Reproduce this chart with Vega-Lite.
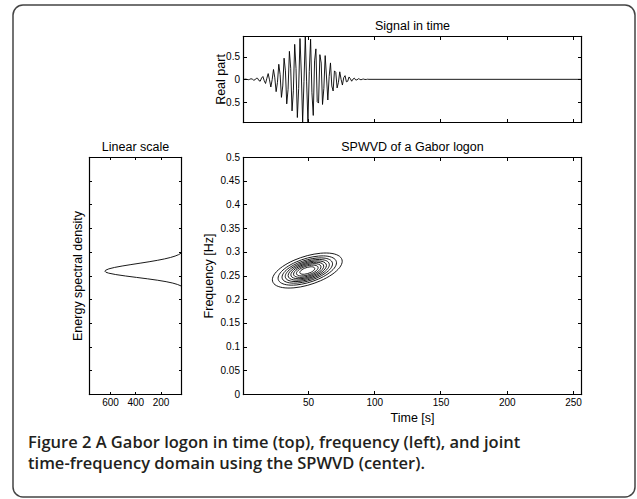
{
"$schema":"https://vega.github.io/schema/vega-lite/v6.json",
"width":622,"height":492,
"autosize":{"type":"none"},
"padding":{"left":13,"top":5,"right":2,"bottom":2},
"background":"white",
"config":{
 "view":{"stroke":"#444444","strokeWidth":1.5,"cornerRadius":10},
 "axis":{"grid":false,"domainColor":"#000","domainWidth":1.2,"domainCap":"square","tickColor":"#000","tickWidth":1,"tickSize":-3.5,"labelColor":"#000","titleColor":"#000","labelFont":"Liberation Sans","titleFont":"Liberation Sans","labelFontSize":10,"titleFontSize":12.5,"titleFontWeight":"normal","labelPadding":7,"labelFlush":false,"labelOverlap":false}
},
"title":{"text":["Figure 2 A Gabor logon in time (top), frequency (left), and joint","time-frequency domain using the SPWVD (center)."],"orient":"bottom","anchor":"start","frame":"group","offset":-62,"dx":15,"font":"Open Sans","fontSize":16.5,"fontWeight":600,"color":"#231f20","lineHeight":21,"baseline":"top"},
"datasets":{
"signal":[{"t":1,"v":-0.003},{"t":2,"v":0.002},{"t":3,"v":0.005},{"t":4,"v":-0.001},{"t":5,"v":-0.008},{"t":6,"v":-0.001},{"t":7,"v":0.013},{"t":8,"v":0.005},{"t":9,"v":-0.017},{"t":10,"v":-0.012},{"t":11,"v":0.023},{"t":12,"v":0.023},{"t":13,"v":-0.027},{"t":14,"v":-0.04},{"t":15,"v":0.029},{"t":16,"v":0.062},{"t":17,"v":-0.028},{"t":18,"v":-0.091},{"t":19,"v":0.023},{"t":20,"v":0.126},{"t":21,"v":-0.011},{"t":22,"v":-0.168},{"t":23,"v":-0.008},{"t":24,"v":0.216},{"t":25,"v":0.033},{"t":26,"v":-0.27},{"t":27,"v":-0.066},{"t":28,"v":0.33},{"t":29,"v":0.104},{"t":30,"v":-0.395},{"t":31,"v":-0.145},{"t":32,"v":0.464},{"t":33,"v":0.185},{"t":34,"v":-0.538},{"t":35,"v":-0.219},{"t":36,"v":0.614},{"t":37,"v":0.243},{"t":38,"v":-0.692},{"t":39,"v":-0.251},{"t":40,"v":0.767},{"t":41,"v":0.238},{"t":42,"v":-0.837},{"t":43,"v":-0.201},{"t":44,"v":0.895},{"t":45,"v":0.139},{"t":46,"v":-0.935},{"t":47,"v":-0.051},{"t":48,"v":0.95},{"t":49,"v":-0.056},{"t":50,"v":-0.933},{"t":51,"v":0.175},{"t":52,"v":0.881},{"t":53,"v":-0.295},{"t":54,"v":-0.791},{"t":55,"v":0.404},{"t":56,"v":0.668},{"t":57,"v":-0.49},{"t":58,"v":-0.52},{"t":59,"v":0.541},{"t":60,"v":0.357},{"t":61,"v":-0.551},{"t":62,"v":-0.196},{"t":63,"v":0.52},{"t":64,"v":0.051},{"t":65,"v":-0.453},{"t":66,"v":0.066},{"t":67,"v":0.36},{"t":68,"v":-0.145},{"t":69,"v":-0.255},{"t":70,"v":0.185},{"t":71,"v":0.153},{"t":72,"v":-0.188},{"t":73,"v":-0.066},{"t":74,"v":0.165},{"t":75,"v":0.002},{"t":76,"v":-0.125},{"t":77,"v":0.037},{"t":78,"v":0.081},{"t":79,"v":-0.054},{"t":80,"v":-0.042},{"t":81,"v":0.052},{"t":82,"v":0.012},{"t":83,"v":-0.041},{"t":84,"v":0.006},{"t":85,"v":0.026},{"t":86,"v":-0.013},{"t":87,"v":-0.013},{"t":88,"v":0.014},{"t":89,"v":0.003},{"t":90,"v":-0.01},{"t":91,"v":0.002},{"t":92,"v":0.006},{"t":93,"v":-0.003},{"t":94,"v":-0.002},{"t":95,"v":0.003},{"t":96,"v":0},{"t":256,"v":0}],
"esd":[{"f":0.228,"e":38},{"f":0.231,"e":64.8},{"f":0.234,"e":103.1},{"f":0.237,"e":155.6},{"f":0.24,"e":222.9},{"f":0.243,"e":302.9},{"f":0.246,"e":390.6},{"f":0.249,"e":477.8},{"f":0.252,"e":554.6},{"f":0.255,"e":610.8},{"f":0.257,"e":632.6},{"f":0.259,"e":640},{"f":0.261,"e":635},{"f":0.264,"e":609.1},{"f":0.267,"e":564},{"f":0.27,"e":503.9},{"f":0.273,"e":434.6},{"f":0.276,"e":361.6},{"f":0.279,"e":290.4},{"f":0.282,"e":225.1},{"f":0.285,"e":168.4},{"f":0.288,"e":121.5},{"f":0.291,"e":84.7},{"f":0.294,"e":56.9},{"f":0.297,"e":38}],
"contour":[
{"level":1,"j":0,"t":75.85,"f":0.28},{"level":1,"j":1,"t":73.84,"f":0.2905},{"level":1,"j":2,"t":68.13,"f":0.2965},{"level":1,"j":3,"t":59.58,"f":0.297},{"level":1,"j":4,"t":49.5,"f":0.2919},{"level":1,"j":5,"t":39.42,"f":0.2821},{"level":1,"j":6,"t":30.87,"f":0.2689},{"level":1,"j":7,"t":25.16,"f":0.2545},{"level":1,"j":8,"t":23.15,"f":0.241},{"level":1,"j":9,"t":25.16,"f":0.2305},{"level":1,"j":10,"t":30.87,"f":0.2245},{"level":1,"j":11,"t":39.42,"f":0.224},{"level":1,"j":12,"t":49.5,"f":0.2291},{"level":1,"j":13,"t":59.58,"f":0.239},{"level":1,"j":14,"t":68.13,"f":0.2521},{"level":1,"j":15,"t":73.84,"f":0.2665},
{"level":2,"j":0,"t":71.53,"f":0.2768},{"level":2,"j":1,"t":69.85,"f":0.2856},{"level":2,"j":2,"t":65.07,"f":0.2906},{"level":2,"j":3,"t":57.93,"f":0.291},{"level":2,"j":4,"t":49.5,"f":0.2868},{"level":2,"j":5,"t":41.07,"f":0.2785},{"level":2,"j":6,"t":33.93,"f":0.2675},{"level":2,"j":7,"t":29.15,"f":0.2555},{"level":2,"j":8,"t":27.47,"f":0.2442},{"level":2,"j":9,"t":29.15,"f":0.2354},{"level":2,"j":10,"t":33.93,"f":0.2304},{"level":2,"j":11,"t":41.07,"f":0.23},{"level":2,"j":12,"t":49.5,"f":0.2343},{"level":2,"j":13,"t":57.93,"f":0.2425},{"level":2,"j":14,"t":65.07,"f":0.2535},{"level":2,"j":15,"t":69.85,"f":0.2655},
{"level":3,"j":0,"t":68.55,"f":0.2746},{"level":3,"j":1,"t":67.1,"f":0.2822},{"level":3,"j":2,"t":62.97,"f":0.2865},{"level":3,"j":3,"t":56.79,"f":0.2869},{"level":3,"j":4,"t":49.5,"f":0.2832},{"level":3,"j":5,"t":42.21,"f":0.2761},{"level":3,"j":6,"t":36.03,"f":0.2666},{"level":3,"j":7,"t":31.9,"f":0.2562},{"level":3,"j":8,"t":30.45,"f":0.2464},{"level":3,"j":9,"t":31.9,"f":0.2388},{"level":3,"j":10,"t":36.03,"f":0.2345},{"level":3,"j":11,"t":42.21,"f":0.2341},{"level":3,"j":12,"t":49.5,"f":0.2378},{"level":3,"j":13,"t":56.79,"f":0.2449},{"level":3,"j":14,"t":62.97,"f":0.2544},{"level":3,"j":15,"t":67.1,"f":0.2648},
{"level":4,"j":0,"t":66.13,"f":0.2728},{"level":4,"j":1,"t":64.86,"f":0.2795},{"level":4,"j":2,"t":61.26,"f":0.2832},{"level":4,"j":3,"t":55.86,"f":0.2835},{"level":4,"j":4,"t":49.5,"f":0.2803},{"level":4,"j":5,"t":43.14,"f":0.2741},{"level":4,"j":6,"t":37.74,"f":0.2658},{"level":4,"j":7,"t":34.14,"f":0.2567},{"level":4,"j":8,"t":32.87,"f":0.2482},{"level":4,"j":9,"t":34.14,"f":0.2415},{"level":4,"j":10,"t":37.74,"f":0.2378},{"level":4,"j":11,"t":43.14,"f":0.2375},{"level":4,"j":12,"t":49.5,"f":0.2407},{"level":4,"j":13,"t":55.86,"f":0.2469},{"level":4,"j":14,"t":61.26,"f":0.2552},{"level":4,"j":15,"t":64.86,"f":0.2643},
{"level":5,"j":0,"t":63.97,"f":0.2712},{"level":5,"j":1,"t":62.86,"f":0.277},{"level":5,"j":2,"t":59.73,"f":0.2803},{"level":5,"j":3,"t":55.03,"f":0.2805},{"level":5,"j":4,"t":49.5,"f":0.2777},{"level":5,"j":5,"t":43.97,"f":0.2723},{"level":5,"j":6,"t":39.27,"f":0.2651},{"level":5,"j":7,"t":36.14,"f":0.2572},{"level":5,"j":8,"t":35.03,"f":0.2498},{"level":5,"j":9,"t":36.14,"f":0.244},{"level":5,"j":10,"t":39.27,"f":0.2407},{"level":5,"j":11,"t":43.97,"f":0.2405},{"level":5,"j":12,"t":49.5,"f":0.2433},{"level":5,"j":13,"t":55.03,"f":0.2487},{"level":5,"j":14,"t":59.73,"f":0.2559},{"level":5,"j":15,"t":62.86,"f":0.2638},
{"level":6,"j":0,"t":61.91,"f":0.2697},{"level":6,"j":1,"t":60.96,"f":0.2747},{"level":6,"j":2,"t":58.27,"f":0.2775},{"level":6,"j":3,"t":54.25,"f":0.2777},{"level":6,"j":4,"t":49.5,"f":0.2753},{"level":6,"j":5,"t":44.75,"f":0.2707},{"level":6,"j":6,"t":40.73,"f":0.2645},{"level":6,"j":7,"t":38.04,"f":0.2577},{"level":6,"j":8,"t":37.09,"f":0.2513},{"level":6,"j":9,"t":38.04,"f":0.2464},{"level":6,"j":10,"t":40.73,"f":0.2436},{"level":6,"j":11,"t":44.75,"f":0.2433},{"level":6,"j":12,"t":49.5,"f":0.2457},{"level":6,"j":13,"t":54.25,"f":0.2504},{"level":6,"j":14,"t":58.27,"f":0.2565},{"level":6,"j":15,"t":60.96,"f":0.2633},
{"level":7,"j":0,"t":59.86,"f":0.2682},{"level":7,"j":1,"t":59.07,"f":0.2723},{"level":7,"j":2,"t":56.82,"f":0.2746},{"level":7,"j":3,"t":53.46,"f":0.2748},{"level":7,"j":4,"t":49.5,"f":0.2728},{"level":7,"j":5,"t":45.54,"f":0.269},{"level":7,"j":6,"t":42.18,"f":0.2638},{"level":7,"j":7,"t":39.93,"f":0.2581},{"level":7,"j":8,"t":39.14,"f":0.2528},{"level":7,"j":9,"t":39.93,"f":0.2487},{"level":7,"j":10,"t":42.18,"f":0.2464},{"level":7,"j":11,"t":45.54,"f":0.2462},{"level":7,"j":12,"t":49.5,"f":0.2482},{"level":7,"j":13,"t":53.46,"f":0.252},{"level":7,"j":14,"t":56.82,"f":0.2572},{"level":7,"j":15,"t":59.07,"f":0.2629},
{"level":8,"j":0,"t":57.69,"f":0.2666},{"level":8,"j":1,"t":57.07,"f":0.2698},{"level":8,"j":2,"t":55.29,"f":0.2717},{"level":8,"j":3,"t":52.63,"f":0.2718},{"level":8,"j":4,"t":49.5,"f":0.2703},{"level":8,"j":5,"t":46.37,"f":0.2672},{"level":8,"j":6,"t":43.71,"f":0.2631},{"level":8,"j":7,"t":41.93,"f":0.2586},{"level":8,"j":8,"t":41.31,"f":0.2544},{"level":8,"j":9,"t":41.93,"f":0.2512},{"level":8,"j":10,"t":43.71,"f":0.2493},{"level":8,"j":11,"t":46.37,"f":0.2492},{"level":8,"j":12,"t":49.5,"f":0.2507},{"level":8,"j":13,"t":52.63,"f":0.2538},{"level":8,"j":14,"t":55.29,"f":0.2579},{"level":8,"j":15,"t":57.07,"f":0.2624},
{"level":9,"j":0,"t":55.14,"f":0.2647},{"level":9,"j":1,"t":54.71,"f":0.2669},{"level":9,"j":2,"t":53.49,"f":0.2682},{"level":9,"j":3,"t":51.66,"f":0.2683},{"level":9,"j":4,"t":49.5,"f":0.2672},{"level":9,"j":5,"t":47.34,"f":0.2651},{"level":9,"j":6,"t":45.51,"f":0.2623},{"level":9,"j":7,"t":44.29,"f":0.2592},{"level":9,"j":8,"t":43.86,"f":0.2563},{"level":9,"j":9,"t":44.29,"f":0.2541},{"level":9,"j":10,"t":45.51,"f":0.2528},{"level":9,"j":11,"t":47.34,"f":0.2527},{"level":9,"j":12,"t":49.5,"f":0.2538},{"level":9,"j":13,"t":51.66,"f":0.2559},{"level":9,"j":14,"t":53.49,"f":0.2587},{"level":9,"j":15,"t":54.71,"f":0.2618}
]
},
"resolve":{"scale":{"x":"independent","y":"independent"}},
"layer":[
 {"resolve":{"axis":{"x":"independent","y":"independent"}},
  "layer":[
   {"data":{"name":"signal"},"mark":{"type":"line","color":"#000","strokeWidth":0.9},
    "encoding":{
     "x":{"field":"t","type":"quantitative","scale":{"domain":[1,256],"range":[230,568],"nice":false,"zero":false},"axis":{"orient":"bottom","offset":-375,"values":[50,100,150,200,250],"labels":false,"title":null}},
     "y":{"field":"v","type":"quantitative","scale":{"domain":[-0.935,0.95],"range":[117,31],"nice":false,"zero":false},"axis":{"orient":"left","offset":-230,"values":[-0.5,0,0.5],"format":"~g","title":"Real part","titlePadding":-8}}}},
   {"data":{"name":"signal"},"mark":{"type":"point","opacity":0},
    "encoding":{
     "x":{"field":"t","type":"quantitative","scale":{"domain":[1,256],"range":[230,568],"nice":false,"zero":false},"axis":{"orient":"top","offset":-31,"values":[50,100,150,200,250],"labels":false,"title":"Signal in time","titlePadding":3}},
     "y":{"field":"v","type":"quantitative","scale":{"domain":[-0.935,0.95],"range":[117,31],"nice":false,"zero":false},"axis":{"orient":"right","offset":-54,"values":[-0.5,0,0.5],"labels":false,"title":null}}}}
  ]},
 {"resolve":{"axis":{"x":"independent","y":"independent"}},
  "layer":[
   {"data":{"name":"contour"},"mark":{"type":"line","interpolate":"cardinal-closed","color":"#000","strokeWidth":0.9},
    "encoding":{
     "x":{"field":"t","type":"quantitative","scale":{"domain":[1,256],"range":[230,568],"nice":false,"zero":false},"axis":{"orient":"bottom","offset":-103,"values":[50,100,150,200,250],"title":"Time [s]","titlePadding":4}},
     "y":{"field":"f","type":"quantitative","scale":{"domain":[0,0.5],"range":[389,152],"nice":false,"zero":false},"axis":{"orient":"left","offset":-230,"values":[0,0.05,0.1,0.15,0.2,0.25,0.3,0.35,0.4,0.45,0.5],"format":"~g","title":"Frequency [Hz]","titlePadding":5}},
     "detail":{"field":"level","type":"nominal"},
     "order":{"field":"j","type":"quantitative"}}},
   {"data":{"name":"contour"},"mark":{"type":"point","opacity":0},
    "encoding":{
     "x":{"field":"t","type":"quantitative","scale":{"domain":[1,256],"range":[230,568],"nice":false,"zero":false},"axis":{"orient":"top","offset":-152,"values":[50,100,150,200,250],"labels":false,"title":"SPWVD of a Gabor logon","titlePadding":3}},
     "y":{"field":"f","type":"quantitative","scale":{"domain":[0,0.5],"range":[389,152],"nice":false,"zero":false},"axis":{"orient":"right","offset":-54,"values":[0,0.05,0.1,0.15,0.2,0.25,0.3,0.35,0.4,0.45,0.5],"labels":false,"title":null}}}}
  ]},
 {"resolve":{"axis":{"x":"independent","y":"independent"}},
  "layer":[
   {"data":{"name":"esd"},"mark":{"type":"line","color":"#000","strokeWidth":0.9},
    "encoding":{
     "x":{"field":"e","type":"quantitative","scale":{"domain":[38,766],"range":[168,76],"nice":false,"zero":false},"axis":{"orient":"bottom","offset":-103,"values":[200,400,600],"tickSize":-2.5,"labelPadding":6,"title":null}},
     "y":{"field":"f","type":"quantitative","scale":{"domain":[0,0.5],"range":[389,152],"nice":false,"zero":false},"axis":{"orient":"left","offset":-76,"values":[0,0.05,0.1,0.15,0.2,0.25,0.3,0.35,0.4,0.45,0.5],"labels":false,"tickSize":-2.5,"title":"Energy spectral density","titlePadding":4}},
     "order":{"field":"f","type":"quantitative"}}},
   {"data":{"name":"esd"},"mark":{"type":"point","opacity":0},
    "encoding":{
     "x":{"field":"e","type":"quantitative","scale":{"domain":[38,766],"range":[168,76],"nice":false,"zero":false},"axis":{"orient":"top","offset":-152,"values":[200,400,600],"labels":false,"tickSize":-2.5,"title":"Linear scale","titlePadding":3}},
     "y":{"field":"f","type":"quantitative","scale":{"domain":[0,0.5],"range":[389,152],"nice":false,"zero":false},"axis":{"orient":"right","offset":-454,"values":[0,0.05,0.1,0.15,0.2,0.25,0.3,0.35,0.4,0.45,0.5],"labels":false,"tickSize":-2.5,"title":null}}}}
  ]}
]
}
